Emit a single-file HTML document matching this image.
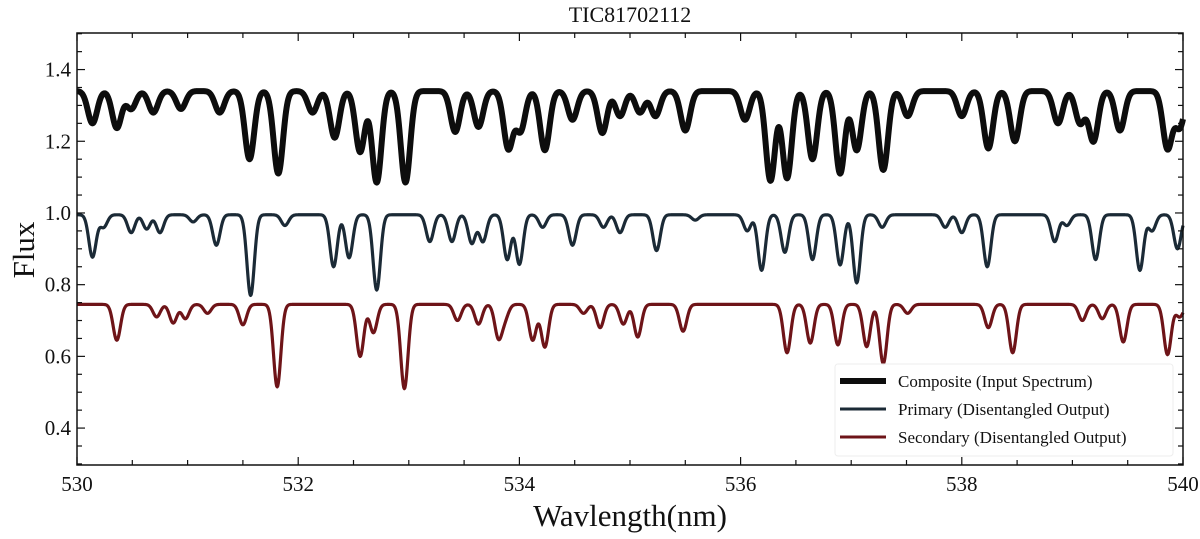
<!DOCTYPE html>
<html><head><meta charset="utf-8"><style>
body{margin:0;background:#fff;}
svg text{font-family:"Liberation Serif",serif;fill:#111;}
</style></head><body>
<svg id="chart" width="1200" height="534" viewBox="0 0 1200 534" xmlns="http://www.w3.org/2000/svg">
<text x="630" y="22" font-size="22" text-anchor="middle">TIC81702112</text>
<g id="plot"></g>
<g id="axes"></g>
<text x="630" y="526" font-size="31" text-anchor="middle">Wavlength(nm)</text>
<text transform="translate(34,250) rotate(-90)" font-size="31" text-anchor="middle">Flux</text>
<g>
<rect x="835" y="364" width="338" height="92" rx="3" fill="#fff" fill-opacity="0.9" stroke="#eee"/>
<line x1="840" y1="381" x2="886" y2="381" stroke="#0d0d0d" stroke-width="6"/>
<text x="898" y="387" font-size="17">Composite (Input Spectrum)</text>
<line x1="840" y1="409" x2="886" y2="409" stroke="#1b2a36" stroke-width="3"/>
<text x="898" y="415" font-size="17">Primary (Disentangled Output)</text>
<line x1="840" y1="437" x2="886" y2="437" stroke="#6e1418" stroke-width="3"/>
<text x="898" y="443" font-size="17">Secondary (Disentangled Output)</text>
</g>
</svg>
<script>
const xTicks=[530,532,534,536,538,540];
const yTicks=[0.4,0.6,0.8,1.0,1.2,1.4];
const baselines=[1.34,0.995,0.745];
const compositeLines=[[530.14,1.25],[530.36,1.237],[530.49,1.29],[530.69,1.28],[530.94,1.29],[531.29,1.28],[531.56,1.15],[531.82,1.11],[532.13,1.28],[532.33,1.21],[532.56,1.17],[532.71,1.085],[532.97,1.085],[533.42,1.226],[533.63,1.24],[533.90,1.18],[534.01,1.23],[534.23,1.175],[534.48,1.26],[534.75,1.223],[534.91,1.27],[535.09,1.28],[535.23,1.27],[535.50,1.23],[536.04,1.26],[536.27,1.09],[536.42,1.097],[536.65,1.15],[536.90,1.11],[537.05,1.175],[537.29,1.12],[537.51,1.27],[538.00,1.27],[538.24,1.18],[538.48,1.2],[538.87,1.25],[539.07,1.25],[539.19,1.2],[539.43,1.23],[539.86,1.18],[539.97,1.24]];
const primaryLines=[[530.14,0.877],[530.24,0.96],[530.49,0.945],[530.63,0.955],[530.75,0.945],[531.05,0.975],[531.26,0.91],[531.57,0.77],[531.88,0.965],[532.32,0.85],[532.46,0.875],[532.71,0.785],[533.19,0.92],[533.39,0.92],[533.57,0.915],[533.67,0.92],[533.89,0.87],[534.0,0.857],[534.21,0.96],[534.48,0.91],[534.76,0.96],[534.91,0.945],[535.24,0.895],[535.59,0.98],[536.06,0.95],[536.19,0.84],[536.40,0.89],[536.65,0.87],[536.90,0.855],[537.05,0.805],[537.28,0.96],[537.85,0.96],[538.0,0.945],[538.23,0.85],[538.84,0.92],[538.95,0.965],[539.21,0.87],[539.61,0.84],[539.72,0.95],[539.95,0.90]];
const secondaryLines=[[530.36,0.645],[530.72,0.71],[530.87,0.693],[530.98,0.705],[531.18,0.72],[531.5,0.688],[531.81,0.515],[532.56,0.6],[532.68,0.666],[532.96,0.51],[533.44,0.70],[533.63,0.69],[533.81,0.654],[533.87,0.71],[534.12,0.645],[534.23,0.626],[534.58,0.72],[534.73,0.68],[534.94,0.69],[535.07,0.654],[535.48,0.67],[536.42,0.61],[536.63,0.637],[536.88,0.632],[537.14,0.627],[537.29,0.58],[537.51,0.72],[538.24,0.68],[538.46,0.61],[539.09,0.70],[539.27,0.705],[539.46,0.64],[539.86,0.605],[539.97,0.71]];

const L=77,R=1183,T=33,B=465,X0=530,X1=540,Y0=0.297,Y1=1.502;
const sx=v=>L+(v-X0)/(X1-X0)*(R-L);
const sy=v=>B-(v-Y0)/(Y1-Y0)*(B-T);
const NS="http://www.w3.org/2000/svg";
const plot=document.getElementById('plot'), axes=document.getElementById('axes');

function spectrum(base,lines,sigma){
  const pts=[];
  for(let i=0;i<=2000;i++){
    const w=X0+(X1-X0)*i/2000;
    let f=base;
    for(const [c,m] of lines){const d=(w-c)/sigma;f-=(base-m)*Math.exp(-0.5*d*d);}
    pts.push(sx(w).toFixed(2)+','+sy(f).toFixed(2));
  }
  return pts.join(' ');
}
function addSeries(name,lines,base,sigma,color,width){
  const p=document.createElementNS(NS,'polyline');
  
  
  p.setAttribute('points',spectrum(base,lines,sigma));
  p.setAttribute('fill','none');p.setAttribute('stroke',color);
  p.setAttribute('stroke-width',width);p.setAttribute('stroke-linejoin','round');
  plot.appendChild(p);
}
addSeries('composite-spectrum',compositeLines,baselines[0],0.042,'#0d0d0d',6);
addSeries('primary-spectrum',primaryLines,baselines[1],0.033,'#1b2a36',3.2);
addSeries('secondary-spectrum',secondaryLines,baselines[2],0.033,'#6e1418',3.2);

const frame=document.createElementNS(NS,'rect');


frame.setAttribute('x',L);frame.setAttribute('y',T);frame.setAttribute('width',R-L);frame.setAttribute('height',B-T);
frame.setAttribute('fill','none');frame.setAttribute('stroke','#111');frame.setAttribute('stroke-width','1.5');
axes.appendChild(frame);
function tick(x1,y1,x2,y2){const l=document.createElementNS(NS,'line');
  
  
  l.setAttribute('x1',x1);l.setAttribute('y1',y1);l.setAttribute('x2',x2);l.setAttribute('y2',y2);
  l.setAttribute('stroke','#111');l.setAttribute('stroke-width','1.2');axes.appendChild(l);}
for(let v=X0;v<=X1+1e-9;v+=0.5){const x=sx(v);const major=Math.abs(v-Math.round(v/2)*2)<1e-6;const len=major?8:5;tick(x,B,x,B-len);tick(x,T,x,T+len);}
for(let k=6;k<=30;k++){const v=k*0.05;if(v<Y0||v>Y1)continue;const y=sy(v);const major=k%4===0;const len=major?8:5;tick(L,y,L+len,y);tick(R,y,R-len,y);}
xTicks.forEach(v=>{const t=document.createElementNS(NS,'text');
  
  
  t.setAttribute('x',sx(v));t.setAttribute('y',B+26);t.setAttribute('font-size','21');t.setAttribute('text-anchor','middle');t.textContent=v;axes.appendChild(t);});
yTicks.forEach(v=>{const t=document.createElementNS(NS,'text');
  
  
  t.setAttribute('x',L-6);t.setAttribute('y',sy(v)+7);t.setAttribute('font-size','21');t.setAttribute('text-anchor','end');t.textContent=v.toFixed(1);axes.appendChild(t);});
</script>
</body></html>
